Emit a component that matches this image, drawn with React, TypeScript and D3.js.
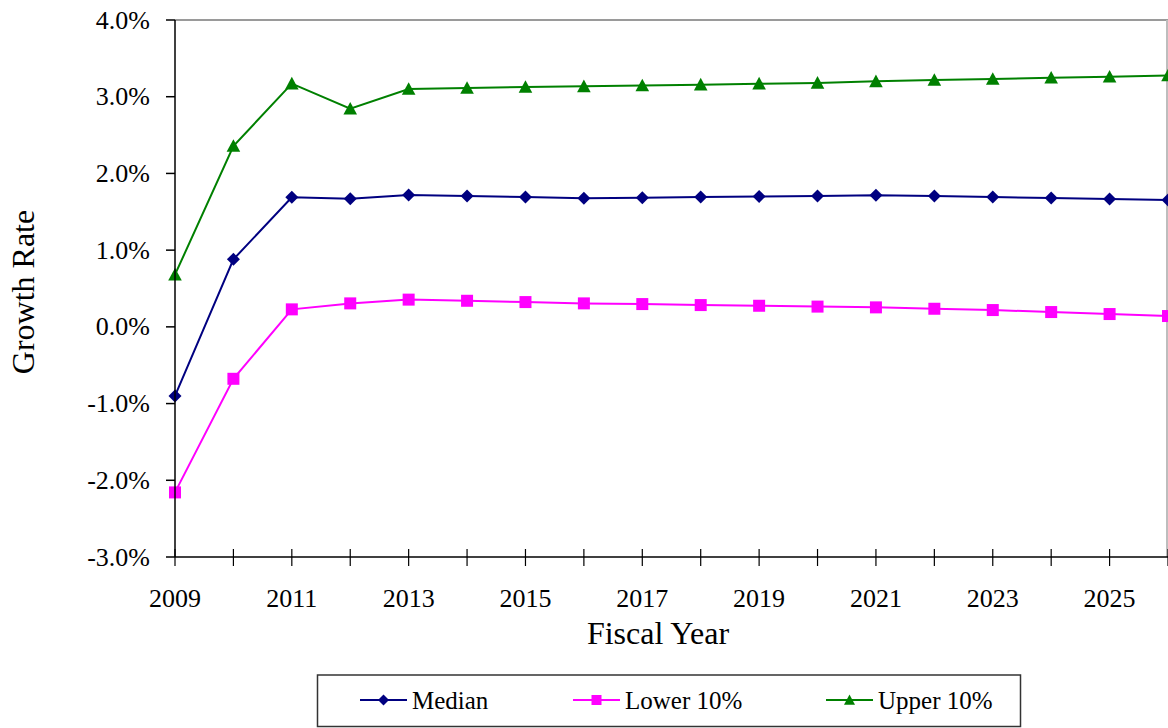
import React from "react";
import * as d3 from "d3";

// Fiscal years and projected growth rates (percent)
const years: number[] = [2009, 2010, 2011, 2012, 2013, 2014, 2015, 2016, 2017, 2018, 2019, 2020, 2021, 2022, 2023, 2024, 2025, 2026];
const median: number[] = [-0.9, 0.88, 1.688, 1.67, 1.718, 1.705, 1.692, 1.675, 1.683, 1.692, 1.7, 1.705, 1.714, 1.705, 1.692, 1.68, 1.666, 1.653];
const lower10: number[] = [-2.158, -0.677, 0.228, 0.306, 0.355, 0.34, 0.323, 0.306, 0.297, 0.284, 0.275, 0.264, 0.254, 0.236, 0.219, 0.193, 0.167, 0.141];
const upper10: number[] = [0.68, 2.357, 3.17, 2.843, 3.1, 3.113, 3.126, 3.135, 3.146, 3.157, 3.17, 3.18, 3.2, 3.218, 3.23, 3.246, 3.26, 3.276];
const yTicks: number[] = [-3, -2, -1, 0, 1, 2, 3, 4];
const xLabelYears: number[] = [2009, 2011, 2013, 2015, 2017, 2019, 2021, 2023, 2025];

const W = 1168;
const H = 728;
const left = 175;
const right = 1168;
const top = 20;
const bottom = 557;
const FONT = "'Liberation Serif', 'Times New Roman', serif";

type Shape = "diamond" | "square" | "triangle";

const series: { name: string; values: number[]; color: string; shape: Shape }[] = [
  { name: "Median", values: median, color: "#000080", shape: "diamond" },
  { name: "Lower 10%", values: lower10, color: "#FF00FF", shape: "square" },
  { name: "Upper 10%", values: upper10, color: "#008000", shape: "triangle" },
];

// percent label with a plain hyphen for negatives
const pct = (t: number) => (t < 0 ? "-" : "") + Math.abs(t).toFixed(1) + "%";

function Marker({ shape, x, y, color, s }: { shape: Shape; x: number; y: number; color: string; s: number }) {
  if (shape === "diamond") {
    return <path d={`M${x},${y - s}L${x + s},${y}L${x},${y + s}L${x - s},${y}Z`} fill={color} />;
  }
  if (shape === "square") {
    return <rect x={x - s} y={y - s} width={2 * s} height={2 * s} fill={color} />;
  }
  return <path d={`M${x},${y - s}L${x + s},${y + s * 0.85}L${x - s},${y + s * 0.85}Z`} fill={color} />;
}

export default function App() {
  const x = d3.scaleLinear().domain([2009, 2026]).range([left, right]);
  const y = d3.scaleLinear().domain([-3, 4]).range([bottom, top]);
  const line = d3
    .line<number>()
    .x((_, i) => x(years[i]))
    .y((d) => y(d));

  const markerSize: Record<Shape, number> = { diamond: 6.5, square: 6, triangle: 6.8 };
  const legendSize: Record<Shape, number> = { diamond: 5.5, square: 5, triangle: 5.5 };
  const legendX = [360, 573, 826];

  return (
    <svg width={W} height={H} style={{ position: "absolute", left: 0, top: 0, background: "#fff", fontFamily: FONT }}>
      {/* plot frame */}
      <line x1={left} x2={right} y1={top} y2={top} stroke="#9a9a9a" strokeWidth={2} />
      <line x1={right - 1} x2={right - 1} y1={top} y2={bottom} stroke="#bdbdbd" strokeWidth={2} />

      {/* series lines and markers */}
      {series.map((s) => (
        <g key={s.name}>
          <path d={line(s.values) || ""} fill="none" stroke={s.color} strokeWidth={2} />
          {s.values.map((v, i) => (
            <Marker key={i} shape={s.shape} x={x(years[i])} y={y(v)} color={s.color} s={markerSize[s.shape]} />
          ))}
        </g>
      ))}

      {/* y axis */}
      <line x1={left} x2={left} y1={top} y2={bottom} stroke="#000" strokeWidth={1.5} />
      {yTicks.map((t) => (
        <g key={t}>
          <line x1={left - 9} x2={left} y1={y(t)} y2={y(t)} stroke="#000" strokeWidth={1.5} />
          <text x={left - 25} y={y(t) + 8.5} textAnchor="end" fontSize={26}>
            {pct(t)}
          </text>
        </g>
      ))}

      {/* x axis */}
      <line x1={left} x2={right} y1={bottom} y2={bottom} stroke="#000" strokeWidth={1.5} />
      {years.map((yr) => (
        <line key={yr} x1={x(yr)} x2={x(yr)} y1={bottom - 8} y2={bottom + 9} stroke="#000" strokeWidth={1.2} />
      ))}
      {xLabelYears.map((yr) => (
        <text key={yr} x={x(yr)} y={607} textAnchor="middle" fontSize={26}>
          {yr}
        </text>
      ))}

      {/* axis titles */}
      <text x={658} y={644} textAnchor="middle" fontSize={32}>
        Fiscal Year
      </text>
      <text transform="translate(34,292) rotate(-90)" textAnchor="middle" fontSize={32}>
        Growth Rate
      </text>

      {/* legend */}
      <rect x={317.5} y={675} width={703} height={51.5} fill="#fff" stroke="#333" strokeWidth={1.5} />
      {series.map((s, i) => (
        <g key={s.name}>
          <line x1={legendX[i]} x2={legendX[i] + 47} y1={700} y2={700} stroke={s.color} strokeWidth={2} />
          <Marker shape={s.shape} x={legendX[i] + 23.5} y={700} color={s.color} s={legendSize[s.shape]} />
          <text x={legendX[i] + 52} y={709} fontSize={25}>
            {s.name}
          </text>
        </g>
      ))}
    </svg>
  );
}
